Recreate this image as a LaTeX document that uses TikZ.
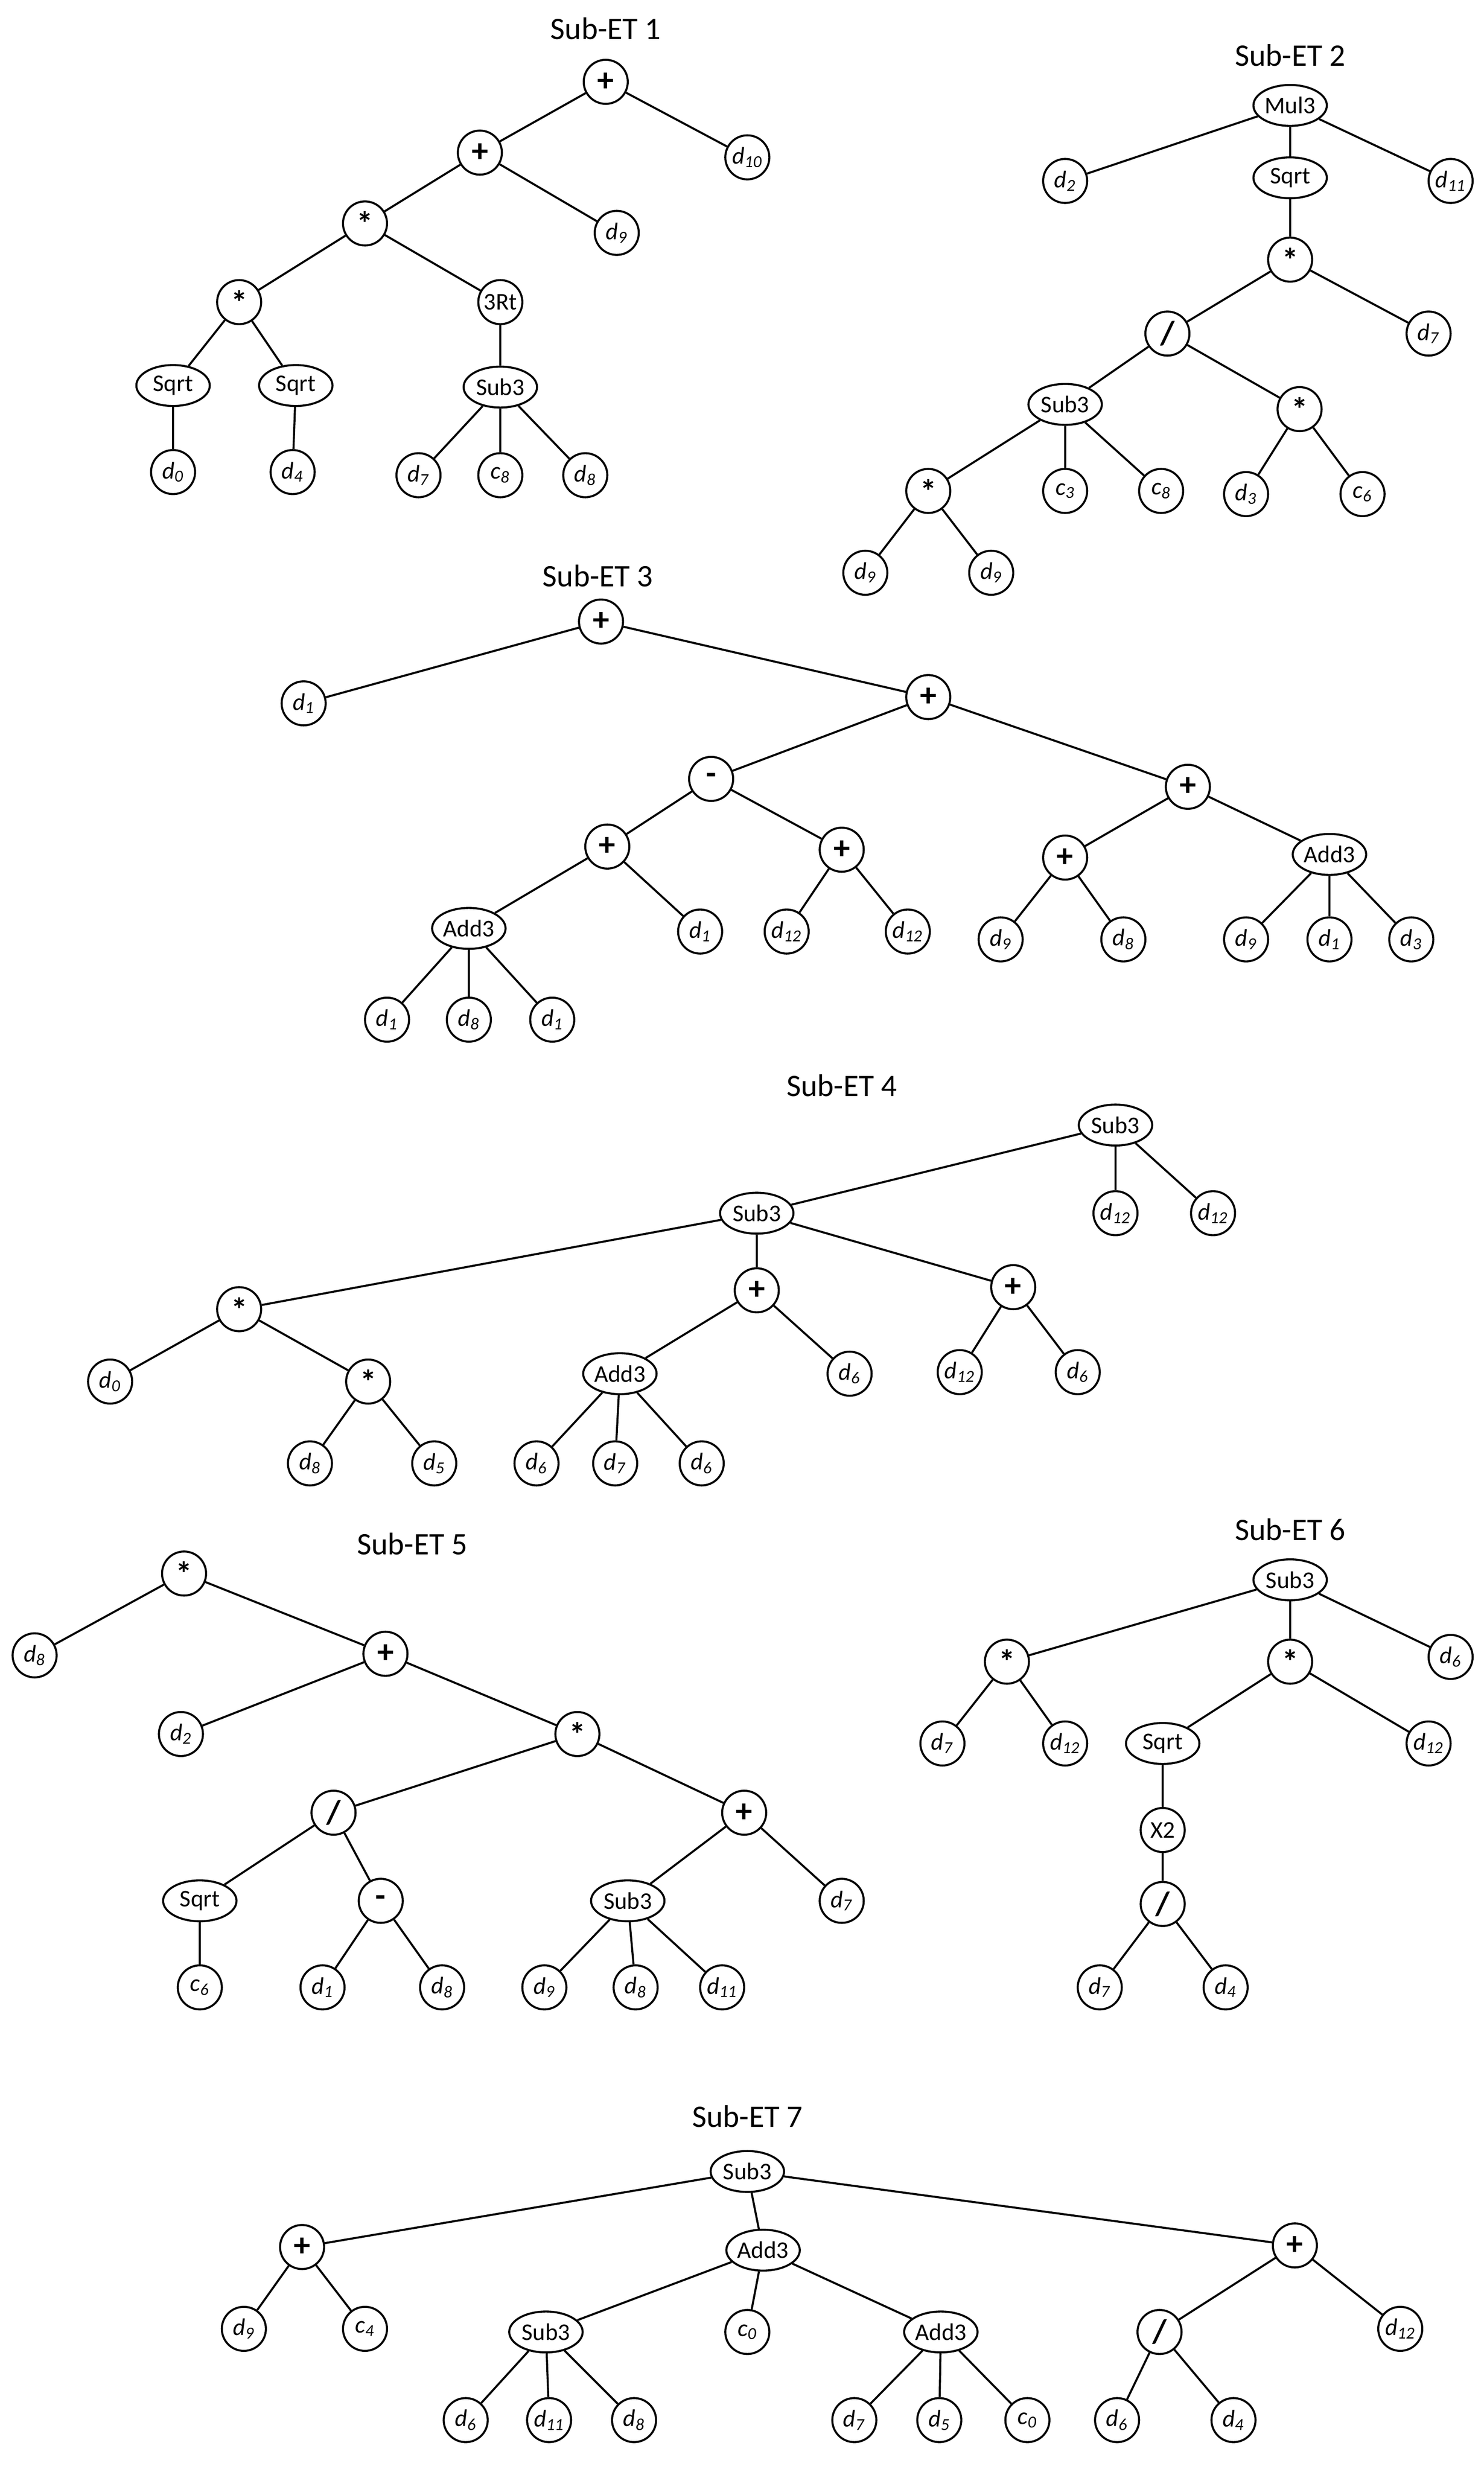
\documentclass[tikz,border=0pt]{standalone}
\usepackage{fontspec}
\setmainfont{Carlito}
\usetikzlibrary{shapes.geometric}
\newcommand\vv[2]{\textit{#1}\textsubscript{\textit{#2}}}
\begin{document}
\begin{tikzpicture}[x=0.03cm,y=-0.03cm,
  c/.style={circle,draw,line width=1.1pt,minimum size=0.84cm,inner sep=0pt,font=\fontsize{13}{15}\selectfont},
  o/.style={c,font=\fontsize{18}{18}\selectfont\bfseries},
  e/.style={ellipse,draw,line width=1.1pt,minimum width=1.4cm,minimum height=0.78cm,inner sep=0pt,font=\fontsize{13}{15}\selectfont},
  t/.style={font=\fontsize{17}{19}\selectfont},
  every path/.style={line width=1.1pt}]
\useasboundingbox (0,0) rectangle (943,1571);
% Sub-ET 1
\node[t] (T1) at (385,18) {Sub-ET 1};
\node[o] (a1) at (385,52) {+};
\node[o] (a2) at (305,97) {+};
\node[c] (a3) at (475,100) {\vv{d}{10}};
\node[o] (a4) at (232,142) {*};
\node[c] (a5) at (392,148) {\vv{d}{9}};
\node[o] (a6) at (152,192) {*};
\node[c] (a7) at (318,192) {3Rt};
\node[e] (a8) at (110,245) {Sqrt};
\node[e] (a9) at (188,245) {Sqrt};
\node[e] (a10) at (318,246) {Sub3};
\node[c] (a11) at (110,300) {\vv{d}{0}};
\node[c] (a12) at (186,300) {\vv{d}{4}};
\node[c] (a13) at (266,302) {\vv{d}{7}};
\node[c] (a14) at (318,302) {\vv{c}{8}};
\node[c] (a15) at (372,302) {\vv{d}{8}};
\draw (a1)--(a2) (a1)--(a3) (a2)--(a4) (a2)--(a5) (a4)--(a6) (a4)--(a7) (a6)--(a8) (a6)--(a9) (a8)--(a11) (a9)--(a12) (a7)--(a10) (a10)--(a13) (a10)--(a14) (a10)--(a15);
% Sub-ET 2
\node[t] (T2) at (820,35) {Sub-ET 2};
\node[e] (b1) at (820,67) {Mul3};
\node[c] (b2) at (677,115) {\vv{d}{2}};
\node[e] (b3) at (820,113) {Sqrt};
\node[c] (b4) at (922,115) {\vv{d}{11}};
\node[o] (b5) at (820,165) {*};
\node[o] (b6) at (742,212) {/};
\node[c] (b7) at (908,212) {\vv{d}{7}};
\node[e] (b8) at (677,257) {Sub3};
\node[o] (b9) at (826,260) {*};
\node[o] (b10) at (590,312) {*};
\node[c] (b11) at (677,312) {\vv{c}{3}};
\node[c] (b12) at (738,312) {\vv{c}{8}};
\node[c] (b13) at (792,314) {\vv{d}{3}};
\node[c] (b14) at (866,314) {\vv{c}{6}};
\node[c] (b15) at (550,364) {\vv{d}{9}};
\node[c] (b16) at (630,364) {\vv{d}{9}};
\draw (b1)--(b2) (b1)--(b3) (b1)--(b4) (b3)--(b5) (b5)--(b6) (b5)--(b7) (b6)--(b8) (b6)--(b9) (b8)--(b10) (b8)--(b11) (b8)--(b12) (b9)--(b13) (b9)--(b14) (b10)--(b15) (b10)--(b16);
% Sub-ET 3
\node[t] (T3) at (380,366) {Sub-ET 3};
\node[o] (c1) at (382,395) {+};
\node[c] (c2) at (193,447) {\vv{d}{1}};
\node[o] (c3) at (590,443) {+};
\node[o] (c4) at (452,495) {-};
\node[o] (c5) at (755,500) {+};
\node[o] (c6) at (386,538) {+};
\node[o] (c7) at (535,540) {+};
\node[o] (c8) at (677,545) {+};
\node[e] (c9) at (845,543) {Add3};
\node[e] (c10) at (298,590) {Add3};
\node[c] (c11) at (445,592) {\vv{d}{1}};
\node[c] (c12) at (500,592) {\vv{d}{12}};
\node[c] (c13) at (577,592) {\vv{d}{12}};
\node[c] (c14) at (636,597) {\vv{d}{9}};
\node[c] (c15) at (714,597) {\vv{d}{8}};
\node[c] (c16) at (792,597) {\vv{d}{9}};
\node[c] (c17) at (845,597) {\vv{d}{1}};
\node[c] (c18) at (897,597) {\vv{d}{3}};
\node[c] (c19) at (246,648) {\vv{d}{1}};
\node[c] (c20) at (298,648) {\vv{d}{8}};
\node[c] (c21) at (351,648) {\vv{d}{1}};
\draw (c1)--(c2) (c1)--(c3) (c3)--(c4) (c3)--(c5) (c4)--(c6) (c4)--(c7) (c5)--(c8) (c5)--(c9) (c6)--(c10) (c6)--(c11) (c7)--(c12) (c7)--(c13) (c8)--(c14) (c8)--(c15) (c9)--(c16) (c9)--(c17) (c9)--(c18) (c10)--(c19) (c10)--(c20) (c10)--(c21);
% Sub-ET 4
\node[t] (T4) at (535,690) {Sub-ET 4};
\node[e] (d1) at (709,715) {Sub3};
\node[e] (d2) at (481,771) {Sub3};
\node[c] (d3) at (709,771) {\vv{d}{12}};
\node[c] (d4) at (771,771) {\vv{d}{12}};
\node[o] (d5) at (152,832) {*};
\node[o] (d6) at (481,820) {+};
\node[o] (d7) at (644,818) {+};
\node[c] (d8) at (70,878) {\vv{d}{0}};
\node[o] (d9) at (234,878) {*};
\node[e] (d10) at (394,873) {Add3};
\node[c] (d11) at (540,873) {\vv{d}{6}};
\node[c] (d12) at (610,872) {\vv{d}{12}};
\node[c] (d13) at (685,872) {\vv{d}{6}};
\node[c] (d14) at (197,930) {\vv{d}{8}};
\node[c] (d15) at (276,930) {\vv{d}{5}};
\node[c] (d16) at (341,930) {\vv{d}{6}};
\node[c] (d17) at (391,930) {\vv{d}{7}};
\node[c] (d18) at (446,930) {\vv{d}{6}};
\draw (d1)--(d2) (d1)--(d3) (d1)--(d4) (d2)--(d5) (d2)--(d6) (d2)--(d7) (d5)--(d8) (d5)--(d9) (d9)--(d14) (d9)--(d15) (d6)--(d10) (d6)--(d11) (d7)--(d12) (d7)--(d13) (d10)--(d16) (d10)--(d17) (d10)--(d18);
% Sub-ET 5
\node[t] (T5) at (262,981) {Sub-ET 5};
\node[o] (e1) at (117,1000) {*};
\node[c] (e2) at (22,1052) {\vv{d}{8}};
\node[o] (e3) at (245,1051) {+};
\node[c] (e4) at (115,1102) {\vv{d}{2}};
\node[o] (e5) at (367,1102) {*};
\node[o] (e6) at (212,1152) {/};
\node[o] (e7) at (473,1152) {+};
\node[e] (e8) at (127,1208) {Sqrt};
\node[o] (e9) at (242,1208) {-};
\node[e] (e10) at (399,1208) {Sub3};
\node[c] (e11) at (535,1208) {\vv{d}{7}};
\node[c] (e12) at (127,1263) {\vv{c}{6}};
\node[c] (e13) at (205,1263) {\vv{d}{1}};
\node[c] (e14) at (281,1263) {\vv{d}{8}};
\node[c] (e15) at (346,1263) {\vv{d}{9}};
\node[c] (e16) at (404,1263) {\vv{d}{8}};
\node[c] (e17) at (459,1263) {\vv{d}{11}};
\draw (e1)--(e2) (e1)--(e3) (e3)--(e4) (e3)--(e5) (e5)--(e6) (e5)--(e7) (e6)--(e8) (e6)--(e9) (e7)--(e10) (e7)--(e11) (e8)--(e12) (e9)--(e13) (e9)--(e14) (e10)--(e15) (e10)--(e16) (e10)--(e17);
% Sub-ET 6
\node[t] (T6) at (820,972) {Sub-ET 6};
\node[e] (f1) at (820,1004) {Sub3};
\node[o] (f2) at (640,1056) {*};
\node[o] (f3) at (820,1056) {*};
\node[c] (f4) at (922,1053) {\vv{d}{6}};
\node[c] (f5) at (599,1108) {\vv{d}{7}};
\node[c] (f6) at (677,1108) {\vv{d}{12}};
\node[e] (f7) at (739,1108) {Sqrt};
\node[c] (f8) at (908,1108) {\vv{d}{12}};
\node[c] (f9) at (739,1163) {X2};
\node[o] (f10) at (739,1210) {/};
\node[c] (f11) at (699,1263) {\vv{d}{7}};
\node[c] (f12) at (779,1263) {\vv{d}{4}};
\draw (f1)--(f2) (f1)--(f3) (f1)--(f4) (f2)--(f5) (f2)--(f6) (f3)--(f7) (f3)--(f8) (f7)--(f9) (f9)--(f10) (f10)--(f11) (f10)--(f12);
% Sub-ET 7
\node[t] (T7) at (475,1345) {Sub-ET 7};
\node[e] (g1) at (475,1380) {Sub3};
\node[o] (g2) at (192,1428) {+};
\node[e] (g3) at (485,1430) {Add3};
\node[o] (g4) at (823,1427) {+};
\node[c] (g5) at (155,1480) {\vv{d}{9}};
\node[c] (g6) at (232,1480) {\vv{c}{4}};
\node[e] (g7) at (347,1482) {Sub3};
\node[c] (g8) at (475,1482) {\vv{c}{0}};
\node[e] (g9) at (598,1482) {Add3};
\node[o] (g10) at (737,1482) {/};
\node[c] (g11) at (890,1480) {\vv{d}{12}};
\node[c] (g12) at (296,1538) {\vv{d}{6}};
\node[c] (g13) at (349,1538) {\vv{d}{11}};
\node[c] (g14) at (403,1538) {\vv{d}{8}};
\node[c] (g15) at (543,1538) {\vv{d}{7}};
\node[c] (g16) at (597,1538) {\vv{d}{5}};
\node[c] (g17) at (653,1538) {\vv{c}{0}};
\node[c] (g18) at (710,1538) {\vv{d}{6}};
\node[c] (g19) at (784,1538) {\vv{d}{4}};
\draw (g1)--(g2) (g1)--(g3) (g1)--(g4) (g2)--(g5) (g2)--(g6) (g3)--(g7) (g3)--(g8) (g3)--(g9) (g4)--(g10) (g4)--(g11) (g7)--(g12) (g7)--(g13) (g7)--(g14) (g9)--(g15) (g9)--(g16) (g9)--(g17) (g10)--(g18) (g10)--(g19);
\end{tikzpicture}
\end{document}
